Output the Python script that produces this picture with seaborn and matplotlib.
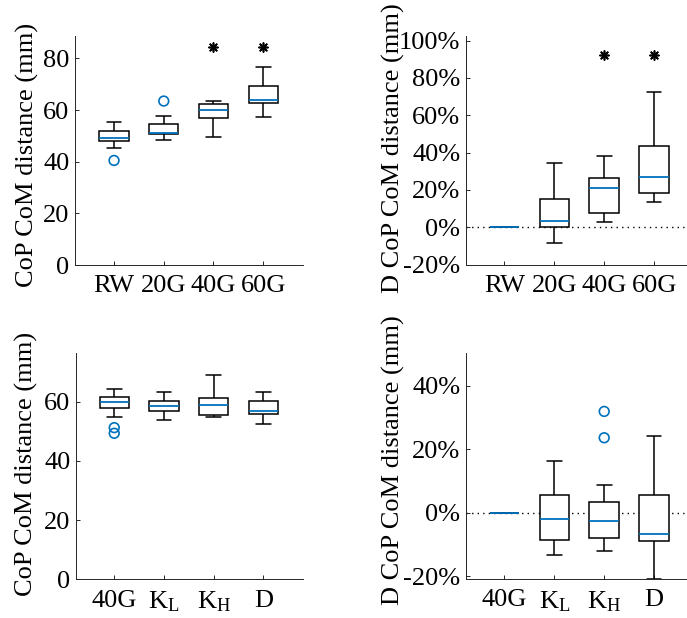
import numpy as np
import pandas as pd
import matplotlib
matplotlib.use("Agg")
import matplotlib.pyplot as plt
import seaborn as sns

sns.set_theme(style="white")
plt.rcParams["font.family"] = ["Liberation Serif", "DejaVu Serif"]
plt.rcParams["mathtext.fontset"] = "custom"
plt.rcParams["mathtext.rm"] = "Liberation Serif"
plt.rcParams["mathtext.it"] = "Liberation Serif:italic"
plt.rcParams["axes.unicode_minus"] = False

BLUE = "#0072BD"
AXC = "#262626"
FS = 19
LFS = 19

# ---- data: five-number summaries [lower whisker, q1, median, q3, upper whisker]
cats_top = ["RW", "20G", "40G", "60G"]
abs_top = {
    "RW": [45.4, 48.0, 49.3, 52.0, 55.2],
    "20G": [48.6, 50.7, 51.2, 54.8, 57.9],
    "40G": [49.7, 56.9, 59.9, 62.2, 63.6],
    "60G": [57.3, 62.7, 64.1, 69.4, 76.5],
}
abs_top_out_cat = ["RW", "20G"]
abs_top_out_val = [40.5, 63.5]
star_top_cat = ["40G", "60G"]
star_top_abs = [84.4, 84.4]

rel_top = {
    "RW": [0.0, 0.0, 0.0, 0.0, 0.0],
    "20G": [-8.6, 0.2, 3.4, 15.0, 34.6],
    "40G": [3.0, 7.5, 20.9, 26.2, 38.4],
    "60G": [13.6, 18.5, 26.9, 43.5, 72.5],
}
star_top_rel = [92.3, 92.3]

cats_bot = ["40G", r"K$_\mathrm{L}$", r"K$_\mathrm{H}$", "D"]
abs_bot = {
    cats_bot[0]: [54.7, 57.9, 60.0, 61.7, 64.2],
    cats_bot[1]: [53.9, 56.9, 58.4, 60.2, 63.1],
    cats_bot[2]: [54.7, 55.4, 58.8, 61.1, 69.0],
    cats_bot[3]: [52.3, 55.8, 56.7, 60.2, 63.1],
}
abs_bot_out_cat = [cats_bot[0], cats_bot[0]]
abs_bot_out_val = [51.2, 49.3]

rel_bot = {
    cats_bot[0]: [0.0, 0.0, 0.0, 0.0, 0.0],
    cats_bot[1]: [-13.2, -8.5, -1.9, 5.5, 16.3],
    cats_bot[2]: [-12.1, -8.0, -2.5, 3.4, 8.7],
    cats_bot[3]: [-20.9, -9.0, -6.8, 5.6, 24.1],
}
rel_bot_out_cat = [cats_bot[2], cats_bot[2]]
rel_bot_out_val = [31.9, 23.6]

ylabel_abs = "CoP CoM distance (mm)"
ylabel_rel = "D CoP CoM distance (mm)"


def long_df(d):
    rows = [(k, v) for k, vals in d.items() for v in vals]
    return pd.DataFrame(rows, columns=["cat", "val"])


fig = plt.figure(figsize=(6.87, 6.18), dpi=100)
W, H = 687.0, 618.0


def make_ax(left, top, right, bottom):
    return fig.add_axes([left / W, 1 - bottom / H, (right - left) / W, (bottom - top) / H])


ax1 = make_ax(75, 36, 303, 265)
ax2 = make_ax(466, 36, 694, 264.7)
ax3 = make_ax(76, 352.7, 303, 579.3)
ax4 = make_ax(466, 352.7, 694, 579)


def draw_box(ax, d, order):
    df = long_df(d)
    sns.boxplot(data=df, x="cat", y="val", order=order, ax=ax, whis=(0, 100),
                width=0.59, color="white", linecolor="black", linewidth=1.1,
                showfliers=False, saturation=1,
                medianprops=dict(color=BLUE, linewidth=1.3),
                boxprops=dict(facecolor="white", edgecolor="black"))


def draw_points(ax, cats, vals, order, kind):
    df = pd.DataFrame({"cat": cats, "val": vals})
    if kind == "out":
        sns.stripplot(data=df, x="cat", y="val", order=order, ax=ax, jitter=False,
                      marker="o", size=7, facecolor="none", edgecolor=BLUE,
                      linewidth=1.2, color=BLUE, zorder=5)
    else:
        sns.stripplot(data=df, x="cat", y="val", order=order, ax=ax, jitter=False,
                      marker=(8, 2, 0), size=6.5, color="black", edgecolor="black",
                      linewidth=1.2, zorder=5)


draw_box(ax1, abs_top, cats_top)
draw_points(ax1, abs_top_out_cat, abs_top_out_val, cats_top, "out")
draw_points(ax1, star_top_cat, star_top_abs, cats_top, "star")

draw_box(ax2, rel_top, cats_top)
draw_points(ax2, star_top_cat, star_top_rel, cats_top, "star")

draw_box(ax3, abs_bot, cats_bot)
draw_points(ax3, abs_bot_out_cat, abs_bot_out_val, cats_bot, "out")

draw_box(ax4, rel_bot, cats_bot)
draw_points(ax4, rel_bot_out_cat, rel_bot_out_val, cats_bot, "out")

for ax in (ax2, ax4):
    ax.axhline(0, color="black", linestyle=(0, (1, 3)), linewidth=1.0, zorder=0)

ax1.set_xlim(-0.785, 3.8)
ax2.set_xlim(-0.77, 3.8)
ax3.set_xlim(-0.77, 3.8)
ax4.set_xlim(-0.77, 3.8)

ax1.set_ylim(0, 88.7)
ax1.set_yticks([0, 20, 40, 60, 80])
ax2.set_ylim(-20.1, 102.5)
ax2.set_yticks([-20, 0, 20, 40, 60, 80, 100])
ax2.set_yticklabels([f"{t}%" for t in [-20, 0, 20, 40, 60, 80, 100]])
ax3.set_ylim(0, 76.5)
ax3.set_yticks([0, 20, 40, 60])
ax4.set_ylim(-20.9, 50.4)
ax4.set_yticks([-20, 0, 20, 40])
ax4.set_yticklabels([f"{t}%" for t in [-20, 0, 20, 40]])

label_pos = {ax1: (-0.21, 0.4825), ax2: (-0.316, 0.508), ax3: (-0.22, 0.509), ax4: (-0.316, 0.524)}
for ax, lab in ((ax1, ylabel_abs), (ax2, ylabel_rel), (ax3, ylabel_abs), (ax4, ylabel_rel)):
    ax.set_xlabel("")
    ax.set_ylabel(lab, fontsize=LFS, color="black", va="center")
    ax.yaxis.set_label_coords(*label_pos[ax])
    for s in ("top", "right"):
        ax.spines[s].set_visible(False)
    for s in ("left", "bottom"):
        ax.spines[s].set_color(AXC)
        ax.spines[s].set_linewidth(0.7)
    ax.tick_params(axis="both", direction="in", length=3, width=0.7, color=AXC,
                   labelsize=FS, labelcolor="black", left=True, bottom=True)
    ax.tick_params(axis="y", pad=4)
    ax.tick_params(axis="x", pad=7.5)
    ax.set_facecolor("white")
    ax.grid(False)

fig.savefig("out.png", dpi=100)
